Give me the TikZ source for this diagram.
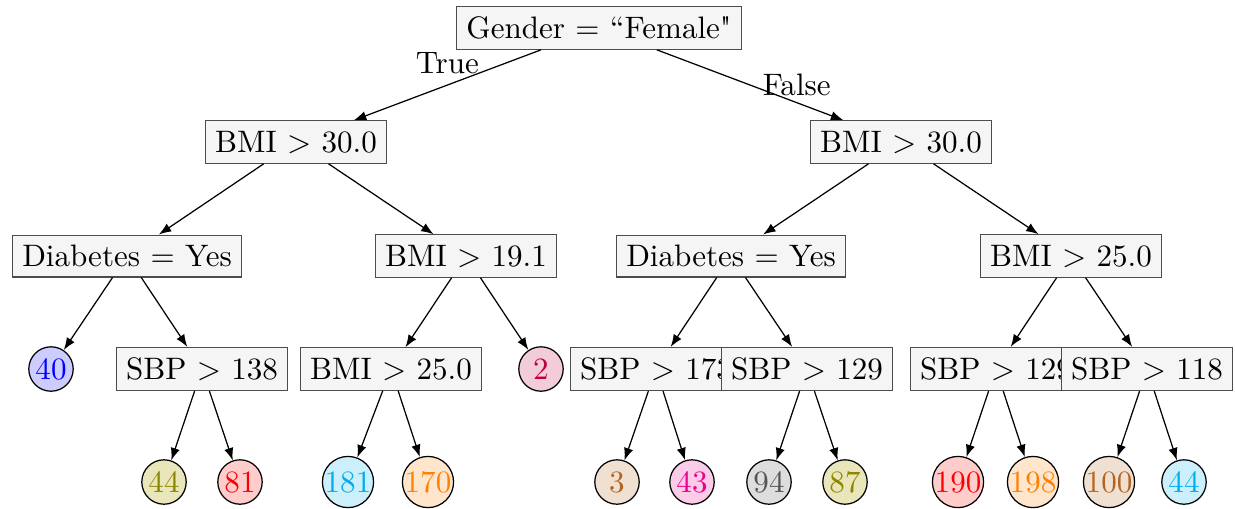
\documentclass[tikz,border=0pt]{standalone}
\usetikzlibrary{arrows.meta}
\definecolor{mymag}{RGB}{236,0,140}
\definecolor{mybrown}{RGB}{180,100,30}
\definecolor{mygray}{RGB}{85,85,85}
\newcommand{\straightquote}{\XeTeXglyph\XeTeXcharglyph"22\relax}
\begin{document}
\begin{tikzpicture}[x=0.322pt,y=-0.322pt,
  dec/.style={draw=black!70, fill=black!4, inner sep=3.2pt},
  leaf/.style={circle, draw=black, inner sep=0pt, minimum size=14.3pt, fill=#1!20, text=#1},
  arr/.style={-{Latex[length=4pt,width=3pt]}}]
\useasboundingbox (0,0) rectangle (1235,508);
% decision nodes
\node[dec] (root) at (599,28) {Gender $=$ ``Female\straightquote};
\node[dec] (L) at (296,142) {BMI $>$ 30.0};
\node[dec] (R) at (901,142) {BMI $>$ 30.0};
\node[dec] (LL) at (127,256) {Diabetes $=$ Yes};
\node[dec] (LR) at (466,256) {BMI $>$ 19.1};
\node[dec] (RL) at (731,256) {Diabetes $=$ Yes};
\node[dec] (RR) at (1071,256) {BMI $>$ 25.0};
\node[leaf=blue] (n40) at (51,369) {40};
\node[dec] (LLR) at (202,369) {SBP $>$ 138};
\node[dec] (LRL) at (391,369) {BMI $>$ 25.0};
\node[leaf=purple] (n2) at (541,369) {2};
\node[dec] (RLL) at (656,369) {SBP $>$ 173};
\node[dec] (RLR) at (807,369) {SBP $>$ 129};
\node[dec] (RRL) at (996,369) {SBP $>$ 129};
\node[dec] (RRR) at (1147,369) {SBP $>$ 118};
% leaves
\node[leaf=olive] (a) at (164,482) {44};
\node[leaf=red] (b) at (240,482) {81};
\node[leaf=cyan] (c) at (348,482) {181};
\node[leaf=orange] (d) at (428,482) {170};
\node[leaf=mybrown] (e) at (617,482) {3};
\node[leaf=mymag] (f) at (692,482) {43};
\node[leaf=mygray] (g) at (769,482) {94};
\node[leaf=olive] (h) at (845,482) {87};
\node[leaf=red] (i) at (958,482) {190};
\node[leaf=orange] (j) at (1033,482) {198};
\node[leaf=mybrown] (k) at (1109,482) {100};
\node[leaf=cyan] (l) at (1184,482) {44};
% edges
\draw[arr] (root) -- node[midway,above] {True} (L);
\draw[arr] (root) -- node[pos=0.75,above=-1.5pt] {False} (R);
\draw[arr] (L) -- (LL);
\draw[arr] (L) -- (LR);
\draw[arr] (R) -- (RL);
\draw[arr] (R) -- (RR);
\draw[arr] (LL) -- (n40);
\draw[arr] (LL) -- (LLR);
\draw[arr] (LR) -- (LRL);
\draw[arr] (LR) -- (n2);
\draw[arr] (RL) -- (RLL);
\draw[arr] (RL) -- (RLR);
\draw[arr] (RR) -- (RRL);
\draw[arr] (RR) -- (RRR);
\draw[arr] (LLR) -- (a);
\draw[arr] (LLR) -- (b);
\draw[arr] (LRL) -- (c);
\draw[arr] (LRL) -- (d);
\draw[arr] (RLL) -- (e);
\draw[arr] (RLL) -- (f);
\draw[arr] (RLR) -- (g);
\draw[arr] (RLR) -- (h);
\draw[arr] (RRL) -- (i);
\draw[arr] (RRL) -- (j);
\draw[arr] (RRR) -- (k);
\draw[arr] (RRR) -- (l);
\end{tikzpicture}
\end{document}
